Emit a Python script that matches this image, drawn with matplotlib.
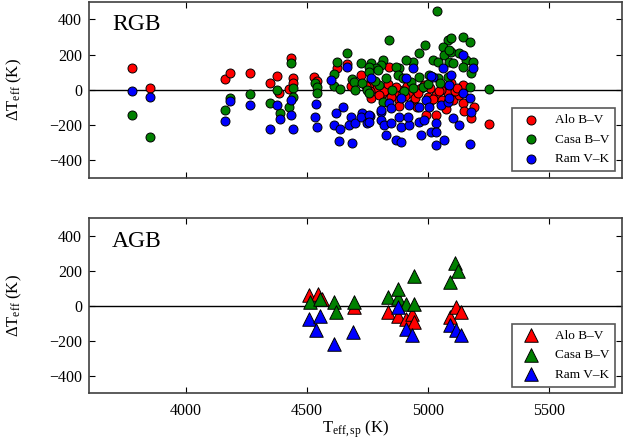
import numpy as np
import matplotlib
matplotlib.use("Agg")
import matplotlib.pyplot as plt

plt.rcParams['font.family'] = ['Liberation Serif', 'DejaVu Serif']
plt.rcParams['mathtext.fontset'] = 'custom'
plt.rcParams['mathtext.rm'] = 'Liberation Serif'
plt.rcParams['mathtext.it'] = 'Liberation Serif:italic'
plt.rcParams['axes.unicode_minus'] = True

labels = ['Alo B\u2013V', 'Casa B\u2013V', 'Ram V\u2013K']
colors = ['r', 'g', 'b']

# RGB stars: (Teff_sp, dTeff) per calibration
rgb_alo_t = [3777, 3853, 4161, 4181, 4264, 4347, 4375, 4384, 4426, 4433, 4444, 4444,
             4530, 4540, 4626, 4665, 4681, 4725, 4764, 4841, 4772, 4813, 4861, 4896,
             4924, 4951, 5000, 5034, 5068, 5082, 5006, 5034, 4937, 4882, 4765, 4848,
             4972, 5055, 4993, 5096, 5144, 5103, 5144, 5192, 5179, 5252, 5130, 4790,
             4820, 4835, 4870, 4905, 4915, 4945, 4960, 4985, 5010, 5020, 5045, 5060,
             5110, 5120, 4760, 4745, 4800, 4880, 4955, 5075, 5150]
rgb_alo_d = [122, 11, 59, 93, 97, 40, 78, -17, 2, 178, 65, 36,
             74, 51, 121, 146, 21, 84, 60, 131, 27, -20, -20, 0,
             -20, 0, -40, -30, 17, -20, -77, -144, -77, -58, -49, -40,
             8, 0, -144, 36, 27, -58, -77, -96, -163, -197, -30, 10,
             -5, 30, 15, -35, 20, -45, -20, 25, 10, -55, -10, -60,
             -10, 10, -5, 20, -30, -90, -100, -110, -120]

rgb_casa_t = [3777, 3853, 4161, 4181, 4264, 4347, 4375, 4389, 4433, 4444, 4444, 4426,
              4532, 4540, 4543, 4612, 4626, 4612, 4637, 4665, 4688, 4695, 4725, 4729,
              4750, 4764, 4838, 4990, 5082, 5064, 5068, 5020, 5041, 4965, 4937, 4910,
              4882, 4868, 4813, 4806, 4785, 4758, 4758, 4875, 4896, 4827, 4799, 4758,
              4813, 4965, 4979, 5041, 5089, 5082, 4930, 5006, 5096, 5096, 5144, 5172,
              5089, 5103, 5130, 5158, 5185, 5144, 5179, 5172, 5252, 5038, 4792, 4850,
              4900, 4940, 5000, 5050, 4700, 4780]
rgb_casa_d = [-144, -267, -115, -50, -26, -74, -2, -131, 153, 8, -40, -97,
              36, 13, -17, 89, 159, 21, 2, 210, 59, 46, 150, 36,
              -1, 150, 282, 254, 282, 244, 197, 169, 159, 207, 159, 169,
              121, 131, 169, 140, 121, 131, 102, 84, 65, 65, 27, -20,
              -68, 74, 17, 65, 159, 74, 46, 84, 216, 292, 301, 273,
              226, 150, 207, 169, 159, 131, 93, 17, 2, 449, 112, 0,
              -10, 10, 30, 40, 0, 50]

rgb_ram_t = [3777, 3853, 4161, 4181, 4264, 4347, 4375, 4389, 4433, 4436, 4443, 4536,
             4532, 4543, 4601, 4619, 4612, 4637, 4651, 4633, 4665, 4681, 4674, 4698,
             4688, 4729, 4725, 4750, 4761, 4765, 4937, 4910, 5062, 5020, 5013, 4841,
             4848, 4889, 4924, 4965, 4993, 5006, 5055, 5082, 4758, 4806, 4806, 4820,
             4848, 4882, 4889, 4924, 4917, 4965, 4986, 5034, 4827, 4868, 4889, 4972,
             5013, 5034, 5034, 5068, 4758, 5144, 5185, 5096, 5089, 5144, 5089, 5172,
             5179, 5103, 5130, 5174, 4805]
rgb_ram_d = [-6, -43, -176, -64, -89, -225, -87, -165, -58, -144, -225, -83,
             -153, -214, 55, -131, -201, -225, -100, -290, 131, -157, -201, -187,
             -305, -131, -153, -187, -149, 65, 121, 65, 121, 74, 78, -77,
             -106, -49, -87, -96, -58, -96, -87, -68, -144, -125, -172, -201,
             -191, -153, -210, -201, -153, -182, -172, -191, -257, -286, -295, -257,
             -238, -238, -314, -286, -182, 197, 121, 84, 27, -21, -49, -49,
             -125, -163, -200, -310, -115]

# AGB stars
agb_alo_t = [4510, 4545, 4561, 4694, 4836, 4877, 4910, 4935, 4943, 5093, 5118, 5135]
agb_alo_d = [63, 68, 40, -8, -36, -55, -74, -45, -93, -64, -8, -36]

agb_casa_t = [4512, 4553, 4611, 4619, 4694, 4836, 4877, 4877, 4910, 4943, 4943, 5093,
              5110, 5126]
agb_casa_d = [21, 40, 21, -36, 21, 49, 44, 97, 11, 172, 11, 135, 248, 201]

agb_ram_t = [4508, 4537, 4553, 4611, 4689, 4877, 4910, 4935, 5093, 5118, 5135]
agb_ram_d = [-74, -140, -55, -216, -150, -8, -131, -169, -108, -140, -169]

fig = plt.figure(figsize=(6.31, 4.44), dpi=100)
ax1 = fig.add_axes([0.141, 0.600, 0.844, 0.396])
ax2 = fig.add_axes([0.141, 0.114, 0.844, 0.394])

rgb = [(rgb_alo_t, rgb_alo_d), (rgb_casa_t, rgb_casa_d), (rgb_ram_t, rgb_ram_d)]
agb = [(agb_alo_t, agb_alo_d), (agb_casa_t, agb_casa_d), (agb_ram_t, agb_ram_d)]

for (t, d), c, lab in zip(rgb, colors, labels):
    ax1.scatter(t, d, s=42, c=c, edgecolors='k', linewidths=0.7, label=lab, zorder=3)
for (t, d), c, lab in zip(agb, colors, labels):
    ax2.scatter(t, d, s=95, c=c, marker='^', edgecolors='k', linewidths=0.7, label=lab, zorder=3)

for ax, name in [(ax1, 'RGB'), (ax2, 'AGB')]:
    ax.axhline(0, color='k', lw=1.0, zorder=2)
    ax.set_xlim(3600, 5800)
    ax.set_ylim(-500, 500)
    ax.set_xticks([4000, 4500, 5000, 5500])
    ax.set_yticks([-400, -200, 0, 200, 400])
    ax.tick_params(direction='in', top=True, right=True, length=4, width=0.8,
                   labelsize=11.5, pad=5)
    for sp in ax.spines.values():
        sp.set_linewidth(1.2)
        sp.set_color('0.25')
    ax.set_ylabel(r'$\Delta\mathrm{T}_{\mathrm{eff}}$ (K)', fontsize=12)
    ax.yaxis.set_label_coords(-0.122, 0.5)
    ax.text(0.043, 0.87, name, transform=ax.transAxes, fontsize=17, va='center')
    leg = ax.legend(loc='lower right', scatterpoints=1, fontsize=9.5, fancybox=False,
                    labelspacing=0.55, borderpad=0.45, framealpha=1)
    leg.get_frame().set_edgecolor('0.35')
    leg.get_frame().set_linewidth(1.2)

ax1.tick_params(labelbottom=False)
ax2.tick_params(axis='x', pad=7)
ax2.set_xlabel(r'$\mathrm{T}_{\mathrm{eff,sp}}$ (K)', fontsize=12)
ax2.xaxis.set_label_coords(0.5, -0.145)

fig.savefig('out.png', dpi=100)
